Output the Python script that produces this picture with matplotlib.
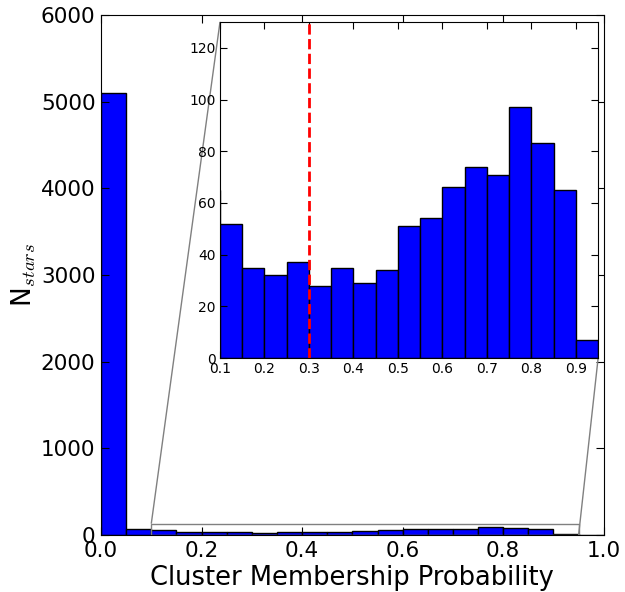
import numpy as np
import matplotlib
matplotlib.use("Agg")
import matplotlib.pyplot as plt
from mpl_toolkits.axes_grid1.inset_locator import mark_inset

# histogram counts, bin width 0.05 from 0.0 to 1.0
bin_edges = np.round(np.arange(0.0, 1.0001, 0.05), 2)
counts = [5100, 65, 52, 35, 32, 37, 28, 35, 29, 34,
          51, 54, 66, 74, 71, 97, 83, 65, 7, 0]
cut = 0.3

plt.rcParams['xtick.direction'] = 'in'
plt.rcParams['ytick.direction'] = 'in'
plt.rcParams['xtick.top'] = True
plt.rcParams['ytick.right'] = True
plt.rcParams['mathtext.fontset'] = 'cm'

fig = plt.figure(figsize=(6.25, 5.92), dpi=100)
ax = fig.add_axes([0.1616, 0.0963, 0.8044, 0.8784])
ax.bar(bin_edges[:-1], counts, width=0.05, align='edge',
       color='b', edgecolor='k', linewidth=1)
ax.set_xlim(0, 1)
ax.set_ylim(0, 6000)
ax.set_xticks([0.0, 0.2, 0.4, 0.6, 0.8, 1.0])
ax.set_yticks(range(0, 6001, 1000))
ax.tick_params(labelsize=15.5, length=6, pad=4)
ax.set_xlabel("Cluster Membership Probability", fontsize=18.5, labelpad=3)
ax.set_ylabel(r"N$_{stars}$", fontsize=19, labelpad=2)

# zoomed inset
axins = fig.add_axes([0.352, 0.395, 0.605, 0.568])
axins.bar(bin_edges[:-1], counts, width=0.05, align='edge',
          color='b', edgecolor='k', linewidth=1)
axins.axvline(cut, color='r', linestyle='--', linewidth=2)
axins.set_xlim(0.1, 0.95)
axins.set_ylim(0, 130)
axins.set_xticks(np.round(np.arange(0.1, 0.91, 0.1), 1))
axins.set_yticks(range(0, 121, 20))
axins.tick_params(labelsize=10, length=5, pad=3)

mark_inset(ax, axins, loc1=2, loc2=4, fc="none", ec="0.5")

fig.savefig("out.png", dpi=100, facecolor='white')
